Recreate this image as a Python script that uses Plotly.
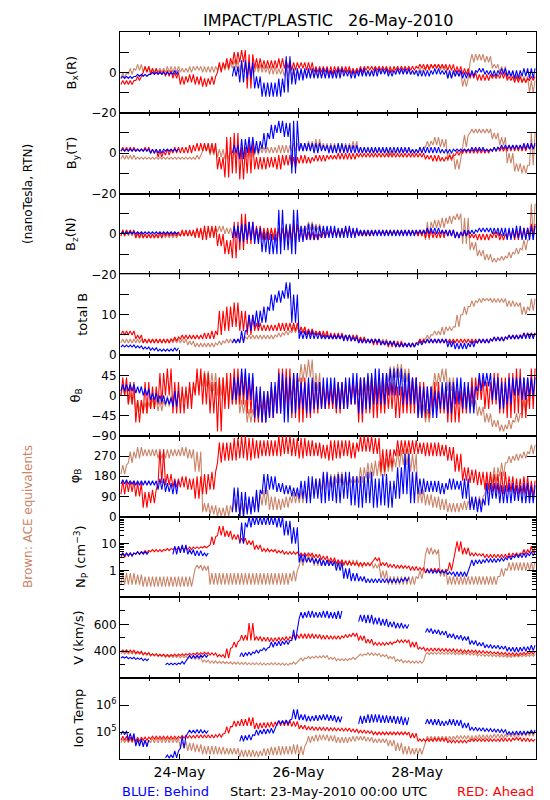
import datetime as dt
import plotly.graph_objects as go
from plotly.subplots import make_subplots

# ---------------- data: (low, high) envelope per 3-hour bin, 23-May-2010 00:00 .. 30-May-2010 00:00
G = (None, None)  # data gap

bx_ace = [(-3,0),(-1,2),(1,4),(0,3),(0,2),(0,2),(0,3),(0,3),
          (0,2),(0,3),(1,3),(0,3),(0,3),(1,4),(1,5),(2,6),
          (0,5),(-1,4),(0,4),(0,3),(-1,3),(-1,2),(-2,2),(-2,1),
          (-2,1),(-2,1),(-2,0),(-2,0),(-1,1),(-1,1),(0,2),(0,2),
          (-1,1),(-1,1),(0,2),(0,1),(0,2),(0,1),(0,1),(-1,1),
          (0,2),(2,4),(2,4),(1,3),(-3,0),(-2,0),(-7,-3),(5,9),
          (6,9),(5,8),(2,4),(0,3),(-3,0),(-4,-1),(-5,-2),(-10,-4)]
bx_ahead = [(-6,-4),(-6,-4),(-4,-2),(0,3),(-1,2),(-1,1),(-2,1),(-3,0),
            (-6,-2),(-5,-1),(-6,-2),(-7,-3),(-6,-2),(0,5),(2,7),(4,10),
            (5,11),(-8,9),(2,7),(2,6),(2,6),(2,7),(2,6),(1,5),
            (2,5),(1,5),(0,3),(0,3),(-1,3),(0,3),(0,3),(-1,2),
            (0,3),(1,3),(1,3),(1,3),(0,3),(1,3),(1,3),(1,3),
            (2,4),(1,4),(2,4),(2,4),(1,4),(0,3),(-1,2),(-3,0),
            (-4,-1),(-4,-1),(-3,-1),(-3,0),(-4,-2),(-5,-2),(-5,-3),(-4,-2)]
bx_behind = [(-3,-2),(-3,-2),(-2,-1),(-2,-1),(-1,0),(-1,0),(-1,0),(-1,1),
             G,G,G,G,G,G,G,(-2,3),
             (-5,6),(-3,5),(-8,-2),(-12,-5),(-12,-5),(-12,-3),(-10,8),(-6,2),
             (-4,2),(-3,2),(-3,2),(-3,2),(-3,1),(-3,2),(-2,1),(-3,1),
             (-2,2),(-2,1),(-2,2),(-1,2),(-2,1),(-1,2),(-1,2),(-1,1),
             (-2,1),(-2,1),(-1,2),(-1,1),(-3,1),(-2,1),(-3,0),(-2,1),
             (0,2),(-1,1),(-2,1),(-1,2),(-2,1),(-3,1),(-2,2),(-3,2)]

by_ace = [(-3,-1),(-3,-1),(-3,-2),(-3,-2),(-3,-2),(-3,-2),(-3,-2),(-3,-2),
          (-3,-2),(-3,-2),(-3,-1),(1,4),(-1,3),(-2,2),(-3,1),(-3,1),
          (-2,2),(-2,2),(-1,3),(0,3),(0,3),(0,4),(0,4),(1,5),
          (1,5),(2,6),(2,7),(2,5),(1,5),(1,4),(1,5),(2,6),
          (0,3),(0,2),(0,2),(0,2),(-1,1),(0,2),(0,2),(0,2),
          (0,3),(3,6),(4,8),(3,7),(-4,0),(-8,-3),(3,9),(10,12),
          (10,12),(10,12),(7,10),(4,8),(-5,0),(-9,-5),(-10,-6),(-6,10)]
by_ahead = [(1,3),(1,3),(1,2),(1,3),(0,2),(-2,1),(-1,2),(0,3),
            (0,3),(0,4),(1,5),(1,5),(0,5),(-8,-2),(-12,8),(-10,10),
            (-13,3),(-10,6),(-8,-2),(-8,-2),(-7,-2),(-8,-1),(-6,-1),(-7,-2),
            (-5,-1),(-5,-2),(-4,-1),(-4,-1),(-3,-1),(-3,0),(-3,0),(-3,0),
            (-2,0),(-2,0),(-2,0),(-2,0),(-2,0),(-2,0),(-2,0),(-2,0),
            (-2,0),(-3,-1),(-4,-1),(-4,-2),(-3,-1),(-1,1),(0,2),(0,2),
            (0,2),(0,2),(1,3),(1,3),(1,4),(1,4),(1,4),(2,4)]
by_behind = [(1,2),(1,2),(1,2),(1,2),(0,2),(0,2),(1,2),(1,2),
             G,G,G,G,G,G,G,(0,4),
             (-3,7),(0,8),(0,6),(2,10),(7,14),(10,16),(8,15),(-10,16),
             (1,5),(1,5),(0,5),(1,4),(0,4),(0,5),(0,4),(0,4),
             (0,3),(0,3),(0,3),(0,3),(0,3),(0,3),(0,3),(0,2),
             (0,3),(0,3),(0,3),(0,2),(0,2),(1,2),(1,2),(1,3),
             (1,3),(1,2),(1,3),(2,4),(2,4),(2,4),(2,5),(2,5)]

bz_ace = [(-1,2),(-1,1),(-2,0),(-2,0),(-2,0),(-2,0),(-2,0),(-2,0),
          (-1,1),(-1,1),(0,2),(0,2),(0,3),(1,4),(0,3),(-1,2),
          (-1,2),(-1,2),(-1,2),(-1,2),(-1,2),(-1,2),(-1,2),(-1,2),
          (1,4),(2,6),(2,5),(0,3),(0,2),(0,2),(-1,2),(0,2),
          (0,2),(0,2),(0,2),(0,2),(0,2),(0,2),(0,2),(0,2),
          (-1,2),(-3,6),(3,7),(3,8),(5,9),(7,10),(-5,8),(-8,-4),
          (-11,-8),(-13,-10),(-14,-12),(-13,-11),(-12,-9),(-10,-7),(-8,-3),(-3,15)]
bz_ahead = [(-1,2),(0,2),(-2,1),(-2,0),(-2,0),(-2,1),(-1,1),(-1,1),
            (-1,2),(-1,2),(-2,3),(-3,4),(-2,4),(-6,0),(-10,-3),(-12,6),
            (-8,10),(-5,6),(-3,4),(-3,3),(-3,3),(-4,3),(-3,4),(-4,5),
            (-3,2),(-3,1),(-3,0),(-2,1),(-1,2),(-1,2),(0,3),(-1,2),
            (-1,1),(-1,1),(0,1),(0,1),(0,1),(0,1),(0,1),(0,1),
            (-1,2),(-2,2),(-2,1),(-2,2),(-1,2),(-2,1),(-1,1),(-2,0),
            (-3,0),(-3,0),(-2,1),(-3,0),(-2,2),(-3,2),(-2,3),(-1,5)]
bz_behind = [(0,1),(0,1),(0,1),(0,1),(0,1),(0,1),(0,1),(0,1),
             G,G,G,G,G,G,G,(-2,4),
             (-4,5),(-3,6),(-5,3),(-9,1),(-10,0),(-10,12),(-8,5),(-10,12),
             (-4,4),(-3,5),(-3,4),(-2,4),(-2,4),(-2,3),(-2,4),(-2,3),
             (-1,2),(-1,2),(-1,2),(-1,2),(-1,2),(-1,2),(-1,2),(-1,2),
             (0,2),(0,3),(0,3),(0,2),(-1,2),(-2,1),(-1,2),(0,2),
             (1,3),(1,3),(0,3),(-1,3),(-3,3),(-2,4),(-3,3),(-3,4)]

btot_ace = [(3,4),(3,4),(3,4),(3,4),(3,4),(3,4),(3,4),(3,4),
            (3,4),(2.5,3.5),(2,3),(2,3),(2,3),(2.5,3.5),(3,4),(3,4),
            (3.5,4.5),(4,5),(4,5),(4,5),(4,5),(4.5,5.5),(5,6),(5.5,7),
            (5.5,7),(5,6.5),(5,6),(4.5,5.5),(4,5),(4,5),(4,5),(4,5),
            (3.5,4.5),(3,4),(3,4),(3,4),(2.5,3.5),(2,3),(2,3),(2,3),
            (3,4),(4,5),(5,6),(5,7),(6,7),(7,10),(10,12),(12,13.5),
            (13,14),(13.5,14),(13,14),(13,14),(12,13.5),(12,13),(10,12),(11,14)]
btot_ahead = [(5,6),(5,6),(4,5),(3,4),(3,4),(3,4),(3,4),(3.5,4.5),
              (4,5),(4,5),(4,5),(4,5.5),(4,6),(5,11),(6,12),(7,13),
              (6,11),(5,10),(6,8),(6,7.5),(6,7.5),(6,8),(6,8),(6,8),
              (5.5,7),(5,6.5),(5,6),(4.5,6),(4,5.5),(4,5.5),(4,5),(3.5,5),
              (3,4.5),(3,4),(2.5,4),(2.5,3.5),(2,3.5),(2,3.5),(2,3),(2,3),
              (3,4),(3,4),(3,4),(3,4),(3,4),(3,4),(3,4),(3,4),
              (3,4),(3,4),(3.5,4.5),(3.5,4.5),(4,5),(4,5),(4.5,5.5),(4.5,5.5)]
btot_behind = [(2,2.5),(2,2.5),(1.8,2.3),(1.5,2),(1.2,1.8),(1,1.5),(1,1.5),(1,1.8),
               G,G,G,G,G,G,G,(3,4),
               (3,6),(6,10),(7,11),(8,12),(11,15),(13,16),(14,18),(8,15),
               (4,6),(4,6),(4,5.5),(4,5),(4,5),(4,5),(3.5,5),(3.5,4.5),
               (3,4),(3,4),(3,4),(2.5,3.5),(2.5,3.5),(2,3),(2,3),(2,3),
               (2.5,3.5),(3,4),(3,4),(3,4),(2,3.5),(1.5,3),(1.5,3),(2,3.5),
               (3,4),(3,4),(3.5,4.5),(3.5,4.5),(4,5),(4,5),(4,5.5),(4,5.5)]

theta_ace = [(0,20),(-20,5),(-35,-10),(-40,-15),(-30,-5),(-35,-10),(-25,0),(-20,5),
             (-15,10),(-10,20),(10,45),(20,55),(10,50),(0,40),(-10,30),(-20,20),
             (-40,-10),(-60,-30),(-50,-20),(-30,10),(-20,20),(-10,30),(-20,20),(0,40),
             (30,70),(40,80),(10,50),(-20,20),(-20,20),(-10,25),(-15,20),(0,30),
             (0,40),(10,45),(0,40),(10,50),(30,65),(40,70),(30,60),(0,40),
             (-50,-20),(-60,-30),(20,50),(30,60),(10,40),(0,20),(-10,10),(-30,-10),
             (-45,-25),(-60,-40),(-70,-55),(-80,-65),(-75,-55),(-60,-40),(-40,-10),(-10,30)]
theta_ahead = [(0,40),(-20,30),(-60,-10),(-40,30),(-30,20),(-20,50),(0,60),(-40,30),
               (-40,20),(-30,30),(0,60),(-20,50),(-40,30),(-80,40),(-30,50),(-20,60),
               (-20,50),(-40,40),(-60,10),(-60,0),(-50,20),(-40,60),(-30,60),(-50,50),
               (-60,40),(-50,30),(-40,30),(-30,20),(-30,20),(-40,30),(-30,30),(-20,30),
               (-60,40),(-40,40),(-50,30),(-40,30),(-30,30),(-50,20),(-40,30),(-40,40),
               (-40,30),(-50,20),(-30,30),(-40,20),(-60,20),(-60,10),(-40,20),(-20,40),
               (-10,40),(-30,30),(-20,50),(-40,40),(-50,50),(-40,60),(-50,40),(-30,60)]
theta_behind = [(10,25),(10,25),(5,20),(0,15),(-10,5),(-15,0),(-20,-5),(-25,10),
                G,G,G,G,G,G,G,(-10,40),
                (0,60),(-10,50),(-50,20),(-60,10),(-50,30),(-40,50),(-60,40),(-40,50),
                (-30,30),(-40,40),(-30,30),(-30,40),(-20,40),(-30,30),(-30,40),(-20,50),
                (-40,40),(-30,50),(-20,60),(-20,50),(0,60),(0,60),(-20,50),(-20,40),
                (-50,20),(-40,20),(-50,10),(-30,30),(-40,30),(-20,40),(-30,30),(-40,20),
                (10,50),(20,50),(-10,40),(-30,30),(-20,40),(0,40),(-10,40),(0,40)]

phi_ace = [(190,230),(240,290),(260,310),(270,300),(270,300),(260,290),(260,300),(270,300),
           (270,310),(260,300),(200,290),(20,60),(10,50),(0,40),(0,50),(20,80),
           (0,60),(20,80),(30,100),(50,120),(30,90),(30,80),(40,90),(60,110),
           (60,120),(80,150),(100,170),(120,190),(130,190),(150,200),(140,180),(150,180),
           (150,220),(170,240),(180,250),(180,260),(200,260),(220,300),(230,300),(200,280),
           (60,120),(50,100),(40,90),(30,80),(20,60),(20,60),(30,70),(40,80),
           (50,90),(100,180),(150,220),(180,240),(240,270),(250,280),(260,290),(280,320)]
phi_ahead = [(100,160),(110,160),(90,150),(40,110),(60,120),(150,300),(140,190),(130,170),
             (130,180),(120,170),(80,180),(100,190),(120,200),(240,330),(250,330),(250,350),
             (260,360),(250,350),(260,340),(270,340),(270,340),(270,360),(280,360),(270,350),
             (260,350),(270,340),(270,330),(260,320),(250,340),(260,340),(270,340),(260,330),
             (290,360),(290,360),(280,350),(200,300),(220,300),(270,340),(280,340),(280,340),
             (280,330),(270,330),(270,330),(270,320),(250,310),(200,280),(160,220),(150,210),
             (140,200),(120,200),(110,190),(100,200),(110,180),(100,170),(100,180),(90,160)]
phi_behind = [(145,165),(145,160),(140,160),(140,160),(140,160),(120,170),(110,150),(100,160),
              G,G,G,G,G,G,G,(20,130),
              (0,110),(10,90),(20,120),(100,190),(120,180),(110,150),(100,140),(90,130),
              (80,160),(60,180),(80,170),(60,200),(70,180),(60,190),(80,200),(50,180),
              (40,180),(60,200),(40,170),(50,190),(40,160),(80,220),(100,280),(60,200),
              (100,170),(110,160),(110,160),(100,150),(120,170),(120,160),(80,170),(30,90),
              (20,80),(50,150),(80,150),(60,140),(60,150),(70,140),(60,150),(60,140)]

np_ace = [(0.3,0.8),(0.3,0.8),(0.3,0.7),(0.25,0.6),(0.25,0.6),(0.25,0.6),(0.25,0.6),(0.25,0.6),
          (0.25,0.6),(0.25,0.6),(1.2,1.6),(1.0,1.5),(0.3,0.8),(0.3,0.8),(0.3,0.8),(0.3,0.8),
          (0.3,0.8),(0.3,0.8),(0.3,0.8),(0.3,0.8),(0.3,0.8),(0.3,0.8),(0.3,0.8),(0.4,1.0),
          (1.5,3),(2,4),(1.5,3),(1.5,2.5),(1.5,2.5),(1.5,2.5),(1.5,2.5),(1.5,2.5),
          (1.3,2),(1.5,2),(1.2,1.8),(0.5,1),(0.3,0.6),(0.3,0.6),(0.3,0.6),(0.3,0.6),
          (0.5,1),(4,7),(4,6),(0.6,1),(0.3,0.6),(0.3,0.6),(0.3,0.6),(0.3,0.6),
          (0.3,0.6),(0.3,0.6),(0.3,0.6),(0.6,1.2),(1,2),(1,2),(1,2),(1,2)]
np_ahead = [(3,4.5),(3.5,4.5),(4,5),(4.5,5.5),(5,6),(5,6),(5.5,6.5),(6,7),
            (6,7),(6,7.5),(6.5,7.5),(7,8),(9,18),(20,45),(18,30),(14,22),
            (11,16),(9,13),(6,9),(5,6.5),(5,6),(4.5,5.5),(4,5),(4,5),
            (3.5,4.5),(3.5,4.5),(3,4),(2.5,3.5),(2,3),(1.8,2.5),(1.6,2.2),(1.6,2),
            (1.5,2),(1.5,1.9),(2.3,3),(1.5,2),(1.3,1.7),(1.2,1.6),(1.2,1.5),(1,1.4),
            (1,1.3),(0.8,1.2),(0.9,1.2),(0.8,1.1),(1,2),(5,12),(4,7),(3.5,4.5),
            (3.5,4.2),(3,4),(3,4),(3,4),(3,4.5),(3.5,4.5),(4,6),(4.5,8)]
np_behind = [(3.5,4.5),(3.5,4.5),(4,5),(4,5),G,G,G,(4,8),
             (4.5,9),(4,6),(3.5,5.5),(3.5,4.5),G,G,G,G,
             (10,60),(40,100),(50,100),(50,100),(50,100),(40,100),(20,70),(10,40),
             (2,4),(2,3),(1.8,2.8),(1.5,2.5),(1.5,2.2),(1,2),(0.5,1.2),(0.4,0.8),
             (0.4,0.6),(0.35,0.5),(0.35,0.5),(0.35,0.5),(0.35,0.5),(0.35,0.5),(0.4,0.55),G,
             G,(0.8,1.1),(0.8,1),(0.8,1),(0.7,0.9),(0.6,0.9),(0.6,0.9),(1.5,2.5),
             (1.8,2.5),(2,2.8),(2,2.8),(2.2,3),(2.5,3.5),(3,4),(3,4.5),(3.5,5)]

v_ace = [(380,395),(380,395),(378,392),(372,388),(365,380),(360,375),(355,370),(355,370),
         (352,368),(345,362),(340,358),(320,335),(312,328),(310,325),(308,322),(305,320),
         (302,318),(300,315),(300,315),(298,312),(300,315),(298,312),(296,310),(305,320),
         (330,350),(345,362),(350,365),(352,368),(340,355),(330,345),(330,345),(340,355),
         (365,380),(372,388),(370,385),(360,375),(345,360),(325,340),(315,330),(312,328),
         (312,328),(375,392),(378,393),(378,393),(378,393),(375,390),(375,390),(372,388),
         (365,380),(362,378),(360,375),(358,372),(355,370),(358,372),(360,375),(362,378)]
v_ahead = [(395,410),(392,408),(385,400),(375,390),(368,382),(365,378),(362,376),(365,380),
           (368,382),(372,386),(375,390),(378,392),(372,388),(360,375),(350,420),(430,470),
           (480,520),(480,610),(480,510),(475,505),(470,500),(475,505),(480,510),(490,525),
           (495,530),(495,530),(495,525),(490,520),(490,515),(490,515),(500,525),(510,535),
           (480,515),(460,490),(445,465),(445,465),(450,470),(465,485),(465,485),(430,470),
           (415,430),(400,425),(400,425),(400,420),(398,418),(395,415),(390,410),(390,408),
           (385,405),(385,400),(380,395),(375,392),(370,390),(368,388),(375,392),(380,398)]
v_behind = [(350,360),(345,355),(340,350),(330,345),G,G,(300,312),(300,312),
            (305,325),(345,370),(350,372),(355,375),G,G,G,G,
            (360,390),(370,395),(385,410),(405,425),(430,470),(440,475),(450,480),(480,560),
            (645,690),(650,700),(650,690),(650,700),(645,690),(640,700),G,G,
            (620,670),(610,670),(600,650),(590,640),(580,620),(570,610),(570,600),G,
            G,(540,570),(530,560),(520,550),(500,530),(490,520),(480,510),(450,480),
            (440,465),(425,450),(420,445),(415,440),(400,430),(395,430),(400,435),(405,445)]

# ion temperature, thousands of kelvin
t_ace = [(40,56),(40,56),(35,50),(35,50),(40,60),(40,60),(40,60),(40,60),
         (25,45),(20,40),(18,35),(15,30),(15,30),(15,28),(15,25),(15,25),
         (12,22),(12,22),(12,20),(13,25),(14,28),(14,30),(15,30),(15,35),
         (14,30),(40,70),(45,80),(50,80),(45,75),(40,65),(40,65),(45,70),
         (50,70),(45,65),(40,56),(40,56),(30,50),(20,40),(15,30),(15,25),
         (15,25),(50,70),(50,70),(50,70),(50,70),(55,75),(55,75),(50,75),
         (55,80),(55,80),(60,85),(60,85),(65,90),(65,95),(70,100),(70,110)]
t_ahead = [(50,70),(45,65),(45,65),(50,65),(55,70),(55,70),(55,70),(55,70),
           (60,75),(60,75),(60,80),(60,80),(60,80),(65,85),(90,160),(160,260),
           (170,300),(170,350),(130,220),(140,230),(150,240),(170,260),(170,270),(160,250),
           (130,180),(120,160),(115,155),(115,150),(112,145),(112,140),(110,140),(100,130),
           (90,120),(90,110),(80,100),(80,100),(80,100),(80,100),(80,100),(60,90),
           (45,56),(45,56),(45,60),(45,60),(40,50),(40,50),(40,50),(45,56),
           (45,56),(45,56),(45,56),(45,60),(45,60),(50,63),(45,60),(45,55)]
t_behind = [(80,110),(50,90),(30,55),(28,50),G,G,(11,14),(11,20),
            (25,70),(90,120),(90,125),(90,115),G,G,G,G,
            (45,75),(50,80),(75,120),(85,130),(90,140),(200,270),(200,280),(300,700),
            (280,450),(250,400),(260,420),(280,450),(260,420),(230,380),G,G,
            (200,400),(220,450),(230,450),(220,420),(220,400),(200,380),(180,350),G,
            G,(200,300),(180,300),(170,260),(180,300),(170,280),(140,220),(115,150),
            (110,145),(105,135),(100,130),(95,125),(80,105),(80,110),(80,110),(85,120)]

day_labels = ["24-May", "26-May", "28-May", "30-May"]

# ---------------- styling
START = dt.datetime(2010, 5, 23)
BIN_H = 3
SUB = 4                      # strokes drawn across each bin's low/high envelope
BROWN = "rgb(204,132,104)"
RED = "#ff0000"
BLUE = "#0000ff"
FONT = "DejaVu Sans"


def strokes(pairs, scale=1.0):
    xs, ys = [], []
    step = BIN_H / SUB
    for k, (lo, hi) in enumerate(pairs):
        for j in range(SUB):
            xs.append(START + dt.timedelta(hours=BIN_H * k + (j + 0.5) * step))
            v = lo if j % 2 == 0 else hi
            ys.append(None if v is None else v * scale)
    return xs, ys


panels = [
    (bx_ace, bx_ahead, bx_behind, 1.0),
    (by_ace, by_ahead, by_behind, 1.0),
    (bz_ace, bz_ahead, bz_behind, 1.0),
    (btot_ace, btot_ahead, btot_behind, 1.0),
    (theta_ace, theta_ahead, theta_behind, 1.0),
    (phi_ace, phi_ahead, phi_behind, 1.0),
    (np_ace, np_ahead, np_behind, 1.0),
    (v_ace, v_ahead, v_behind, 1.0),
    (t_ace, t_ahead, t_behind, 1000.0),
]

fig = make_subplots(rows=9, cols=1, shared_xaxes=True, vertical_spacing=0)

for i, (ace, ahead, behind, sc) in enumerate(panels, start=1):
    for series, col in ((ace, BROWN), (ahead, RED), (behind, BLUE)):
        xs, ys = strokes(series, sc)
        fig.add_trace(go.Scatter(x=xs, y=ys, mode="lines",
                                 line=dict(color=col, width=1.1),
                                 hoverinfo="skip", showlegend=False),
                      row=i, col=1)

x_end = START + dt.timedelta(days=7)
day_vals = [START + dt.timedelta(days=d) for d in (1, 3, 5, 7)]
half_vals = [START + dt.timedelta(hours=12 * h) for h in range(1, 14)]

for i in range(1, 10):
    fig.update_xaxes(row=i, col=1, range=[START, x_end], showline=True, linecolor="black",
                     linewidth=1, mirror="allticks", ticks="inside", ticklen=5,
                     tickcolor="black", tickmode="array", tickvals=day_vals,
                     ticktext=day_labels, showticklabels=(i == 9), showgrid=False,
                     zeroline=False, tickfont=dict(family=FONT, size=14, color="black"),
                     minor=dict(tickmode="array", tickvals=half_vals, ticks="inside",
                                ticklen=3, tickcolor="black", showgrid=False))

M = "\u2212"


def minor(vals, ln=9):
    return dict(tickmode="array", tickvals=vals, ticks="inside", ticklen=ln,
                tickcolor="black", showgrid=False)


lin_b = dict(range=[-20, 20], tickvals=[-20, 0], ticktext=[M + "20", "0"],
             minor=minor([-10, 10]))
yconf = [
    lin_b, lin_b, lin_b,
    dict(range=[0, 20], tickvals=[0, 10], ticktext=["0", "10"], minor=minor([5, 15])),
    dict(range=[-90, 90], tickvals=[-90, -45, 0, 45],
         ticktext=[M + "90", M + "45", "0", "45"]),
    dict(range=[0, 360], tickvals=[0, 90, 180, 270], ticktext=["0", "90", "180", "270"]),
    dict(type="log", range=[-1, 2], tickvals=[1, 10], ticktext=["1", "10"],
         minor=minor([m * d for d in (0.1, 1, 10) for m in range(2, 10)], 4)),
    dict(range=[200, 800], tickvals=[400, 600], ticktext=["400", "600"],
         minor=minor([300, 500, 700], 5)),
    dict(type="log", range=[4, 7], tickvals=[1e5, 1e6],
         ticktext=["10<sup>5</sup>", "10<sup>6</sup>"]),
]
for i, yc in enumerate(yconf, start=1):
    fig.update_yaxes(row=i, col=1, showline=True, linecolor="black", linewidth=1,
                     mirror="allticks", ticks="inside", ticklen=9, tickcolor="black",
                     tickmode="array", showgrid=False, zeroline=False,
                     tickfont=dict(family=FONT, size=12, color="black"), **yc)

L, R, T, B = 112, 22, 24, 49
W, H = 550, 800
PW, PH = W - L - R, H - T - B


def px(xp):
    return (xp - L) / PW


def py(yp):
    return (H - B - yp) / PH


ytitles = ["B<sub>x</sub>(R)", "B<sub>y</sub>(T)", "B<sub>z</sub>(N)", "total B",
           "\u03b8<sub>B</sub>", "\u03c6<sub>B</sub>", "N<sub>P</sub> (cm<sup>\u22123</sup>)",
           "V (km/s)", "Ion Temp"]
ytitle_x = [64, 64, 64, 75, 68, 67, 73, 71, 71]
panel_h = PH / 9
annos = []
for i, (txt, xx) in enumerate(zip(ytitles, ytitle_x)):
    cy = T + panel_h * (i + 0.5)
    annos.append(dict(text=txt, x=px(xx), y=py(cy), textangle=-90,
                      font=dict(family=FONT, size=13, color="black")))

annos += [
    dict(text="(nanoTesla, RTN)", x=px(20), y=py(186), textangle=-90,
         font=dict(family=FONT, size=12, color="black")),
    dict(text="Brown: ACE equivalents", x=px(20), y=py(509), textangle=-90,
         font=dict(family=FONT, size=12, color=BROWN)),
    dict(text="IMPACT/PLASTIC\u00a0\u00a0\u00a026-May-2010", x=0.5, y=py(12),
         font=dict(family=FONT, size=16, color="black")),
    dict(text="BLUE: Behind", x=0, y=py(783), xanchor="left",
         font=dict(family=FONT, size=13, color=BLUE)),
    dict(text="Start: 23-May-2010 00:00 UTC", x=0.5, y=py(783),
         font=dict(family=FONT, size=13, color="black")),
    dict(text="RED: Ahead", x=1, y=py(783), xanchor="right",
         font=dict(family=FONT, size=13, color=RED)),
]
for a in annos:
    a.setdefault("xref", "paper")
    a.setdefault("yref", "paper")
    a.setdefault("showarrow", False)
    a.setdefault("xanchor", "center")
    a.setdefault("yanchor", "middle")

fig.update_layout(width=W, height=H, margin=dict(l=L, r=R, t=T, b=B),
                  plot_bgcolor="white", paper_bgcolor="white", showlegend=False,
                  annotations=annos, font=dict(family=FONT, color="black"))

fig.write_html("out.html")
